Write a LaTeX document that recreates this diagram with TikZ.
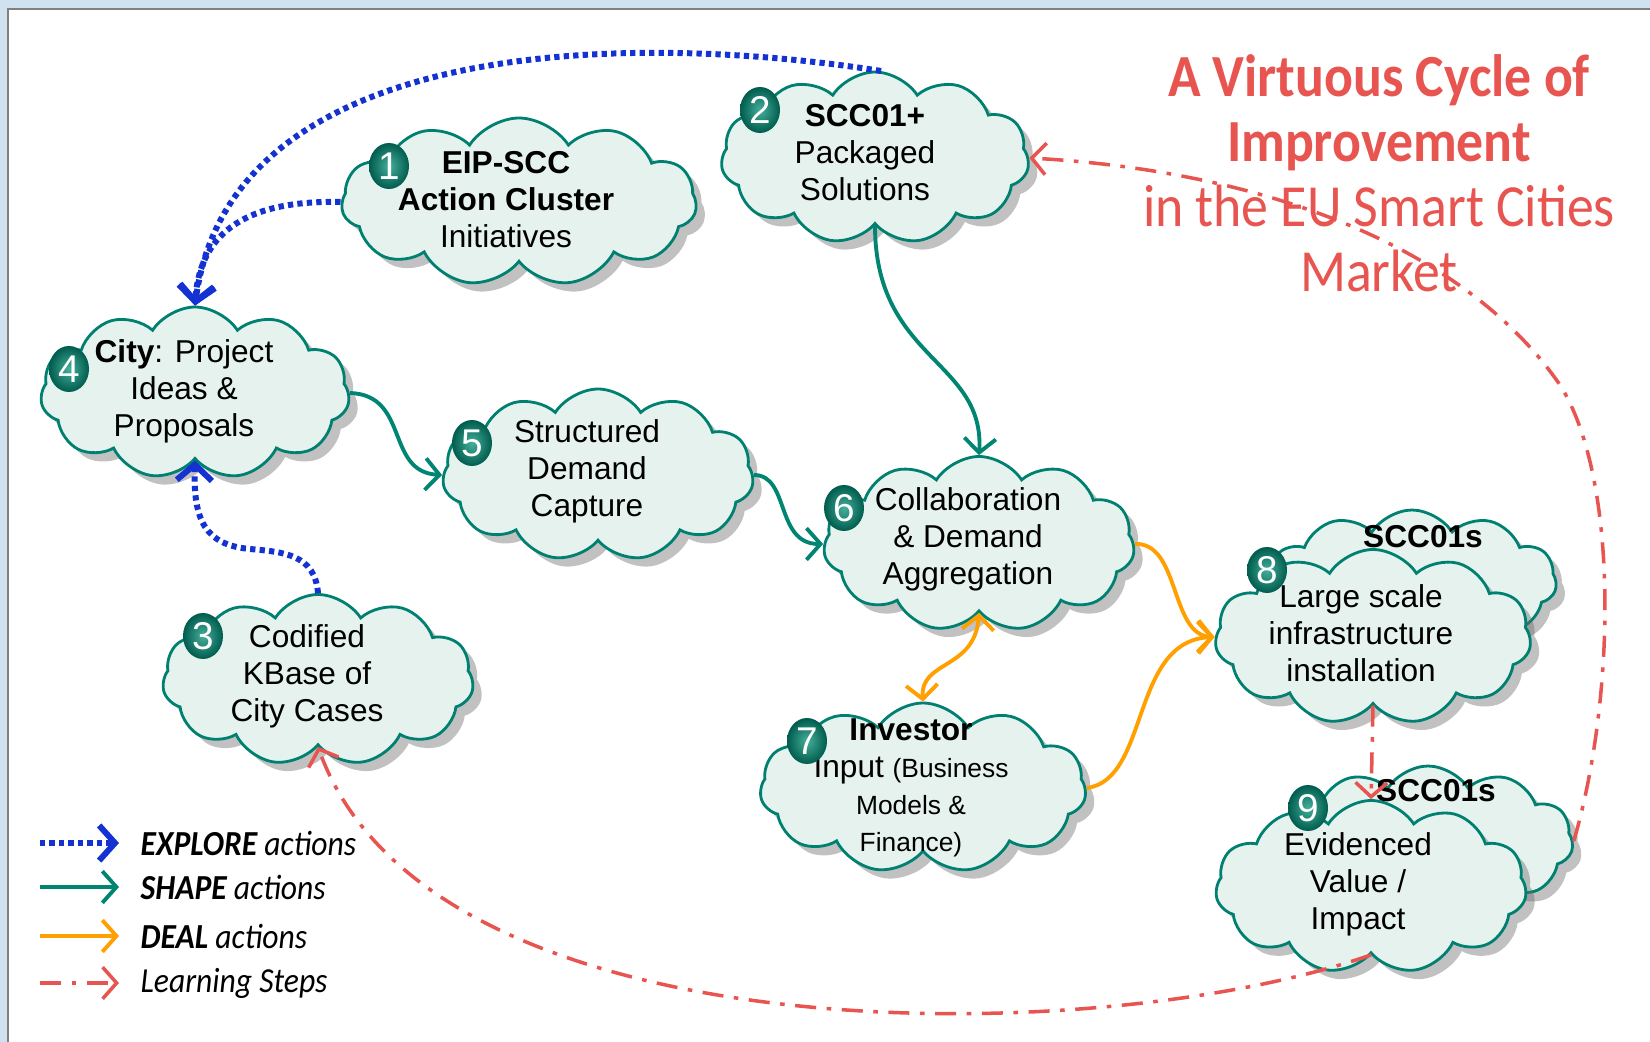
\documentclass[tikz,border=0pt]{standalone}
\usepackage{fontspec}
\setmainfont{Liberation Sans}
\newfontfamily\calibri{Carlito}[FakeStretch=0.9]
\usetikzlibrary{shapes.symbols,shapes.geometric,shadows,arrows.meta}

\definecolor{cloudline}{RGB}{0,128,112}
\definecolor{cloudfill}{RGB}{230,242,238}
\definecolor{badgedark}{RGB}{0,92,78}
\definecolor{badgelight}{RGB}{70,175,155}
\definecolor{explorecol}{RGB}{20,50,210}
\definecolor{shapecol}{RGB}{0,133,115}
\definecolor{dealcol}{RGB}{255,160,0}
\definecolor{learncol}{RGB}{232,85,80}
\definecolor{framecol}{RGB}{208,225,240}

\begin{document}
\begin{tikzpicture}[x=0.1mm,y=-0.1mm,
	cloudbox/.style={cloud, cloud puffs=11, cloud puff arc=115, draw=cloudline, line width=0.8pt, fill=cloudfill, inner sep=0pt,
		drop shadow={shadow xshift=2.5pt, shadow yshift=-2.5pt, opacity=0.4, fill=black!60}},
	cloudtext/.style={align=center, font=\fontsize{9}{10.5}\selectfont, inner sep=0pt},
	badge/.style={ellipse, minimum width=4mm, minimum height=4.6mm, inner sep=0pt, inner color=badgelight, outer color=badgedark, text=white, font=\fontsize{11}{11}\selectfont},
	explore/.style={explorecol, line width=1.7pt, dash pattern=on 1.5pt off 1.2pt, -{Straight Barb[length=4.5pt,width=10pt]}},
	shapeact/.style={shapecol, line width=1.1pt, -{Straight Barb[length=4pt,width=9pt]}},
	deal/.style={dealcol, line width=1.1pt, -{Straight Barb[length=4pt,width=9pt]}},
	learn/.style={learncol, line width=1pt, dash pattern=on 6pt off 3pt on 1.3pt off 3pt, -{Straight Barb[length=4pt,width=9pt]}},
	legendtext/.style={anchor=west, inner sep=0pt, font=\calibri\itshape\fontsize{10}{12}\selectfont},
	titletext/.style={align=center, inner sep=0pt, text=learncol, font=\calibri\fontsize{17}{18.5}\selectfont}]

	\useasboundingbox (0,0) rectangle (1650,1042);
	\fill[white] (0,0) rectangle (1650,1042);
	% window frame
	\fill[framecol] (0,0) rectangle (1650,9);
	\fill[framecol] (0,0) rectangle (8,1042);
	\draw[gray, line width=0.6pt] (8,1042) -- (8,9) -- (1650,9);

	% clouds
	\node (c1) at (519, 202)	[cloudbox, minimum width=35.5mm, minimum height=16.8mm]	{};
	\node (c2) at (875, 158)	[cloudbox, minimum width=30.8mm, minimum height=17.2mm]	{};
	\node (c4) at (195, 393)	[cloudbox, minimum width=30.9mm, minimum height=17.2mm]	{};
	\node (c5) at (598, 475)	[cloudbox, minimum width=31.1mm, minimum height=17.2mm]	{};
	\node (c6) at (979, 544)	[cloudbox, minimum width=31.1mm, minimum height=17.5mm]	{};
	\node (c3) at (318, 680)	[cloudbox, minimum width=31.1mm, minimum height=17.1mm]	{};
	\node (c7) at (923, 788)	[cloudbox, minimum width=32.6mm, minimum height=17mm]	{};
	\node (c8b) at (1412, 581)	[cloudbox, minimum width=28.9mm, minimum height=14.2mm]	{};
	\node (c8) at (1373, 637)	[cloudbox, minimum width=31.6mm, minimum height=17.5mm]	{};
	\node (c9b) at (1428, 841)	[cloudbox, minimum width=29mm, minimum height=15mm]	{};
	\node (c9) at (1371, 887)	[cloudbox, minimum width=31.1mm, minimum height=17.3mm]	{};

	% texts
	\node (t1) at (506, 200)	[cloudtext]	{\textbf{EIP-SCC}\\\textbf{Action Cluster}\\Initiatives};
	\node (t2) at (865, 153)	[cloudtext]	{\textbf{SCC01+}\\Packaged\\Solutions};
	\node (t4) at (184, 391)	[cloudtext]	{\textbf{City}: Project\\Ideas \&\\Proposals};
	\node (t5) at (587, 471)	[cloudtext]	{Structured\\Demand\\Capture};
	\node (t6) at (968, 539)	[cloudtext]	{Collaboration\\\& Demand\\Aggregation};
	\node (t3) at (307, 676)	[cloudtext]	{Codified\\KBase of\\City Cases};
	\node (t7) at (911, 788)	[cloudtext]	{\textbf{Investor}\\Input {\fontsize{7.5}{10}\selectfont(Business}\\{\fontsize{7.5}{10}\selectfont Models \&}\\{\fontsize{7.5}{10}\selectfont Finance)}};
	\node (s8) at (1423, 537)	[cloudtext]	{\textbf{SCC01s}};
	\node (t8) at (1361, 633)	[cloudtext]	{Large scale\\infrastructure\\installation};
	\node (s9) at (1436, 791)	[cloudtext]	{\textbf{SCC01s}};
	\node (t9) at (1358, 884)	[cloudtext]	{Evidenced\\Value /\\Impact};

	% number badges
	\node (b1) at (389, 166)	[badge]	{1};
	\node (b2) at (760, 110)	[badge]	{2};
	\node (b3) at (203, 636)	[badge]	{3};
	\node (b4) at (69, 369)	[badge]	{4};
	\node (b5) at (472, 443)	[badge]	{5};
	\node (b6) at (844, 508)	[badge]	{6};
	\node (b7) at (807, 741)	[badge]	{7};
	\node (b8) at (1267, 570)	[badge]	{8};
	\node (b9) at (1308, 808)	[badge]	{9};

	% title
	\node (title) at (1379, 173)	[titletext]	{\textbf{A Virtuous Cycle of}\\\textbf{Improvement}\\in the EU Smart Cities\\Market};

	% explore
	\draw[explore] (c2.86) .. controls (620, 30) and (230, 40) .. (c4.north);
	\draw[explore] (c1.west) .. controls (250, 200) and (200, 230) .. (c4.north);
	\draw[explore] (c3.north) .. controls (315, 555) and (285, 552) .. (250, 549) .. controls (205, 545) and (193, 520) .. (c4.south);
	% shape
	\draw[shapeact] (c4.east) .. controls (410, 395) and (385, 472) .. (c5.west);
	\draw[shapeact] (c5.east) .. controls (790, 475) and (775, 544) .. (c6.west);
	\draw[shapeact] (c2.south) .. controls (875, 360) and (985, 360) .. (c6.north);
	% deal
	\draw[deal] (c6.east) .. controls (1180, 542) and (1170, 635) .. (c8.west);
	\draw[deal] (c7.east) .. controls (1150, 780) and (1130, 640) .. (c8.west);
	\draw[deal, {Straight Barb[length=4pt,width=9pt]}-{Straight Barb[length=4pt,width=9pt]}] (c6.south) .. controls (975, 670) and (920, 660) .. (c7.north);
	% learning
	\draw[learn] (c8.south) -- (c9.north);
	\draw[learn] (c9b.east) .. controls (1615, 700) and (1620, 480) .. (1560, 385) .. controls (1460, 240) and (1250, 170) .. (c2.east);
	\draw[learn] (c9.south) .. controls (1100, 1050) and (430, 1060) .. (c3.south);

	% legend
	\coordinate (la1) at (40, 843);	\coordinate (lb1) at (119, 843);
	\coordinate (la2) at (40, 887);	\coordinate (lb2) at (119, 887);
	\coordinate (la3) at (40, 936);	\coordinate (lb3) at (119, 936);
	\coordinate (la4) at (40, 983);	\coordinate (lb4) at (119, 983);
	\draw[explore] (la1) -- (lb1);
	\draw[shapeact] (la2) -- (lb2);
	\draw[deal] (la3) -- (lb3);
	\draw[learn] (la4) -- (lb4);
	\node (l1) at (140, 843)	[legendtext]	{\textbf{EXPLORE} actions};
	\node (l2) at (140, 887)	[legendtext]	{\textbf{SHAPE} actions};
	\node (l3) at (140, 936)	[legendtext]	{\textbf{DEAL} actions};
	\node (l4) at (140, 983)	[legendtext]	{Learning Steps};
\end{tikzpicture}
\end{document}
